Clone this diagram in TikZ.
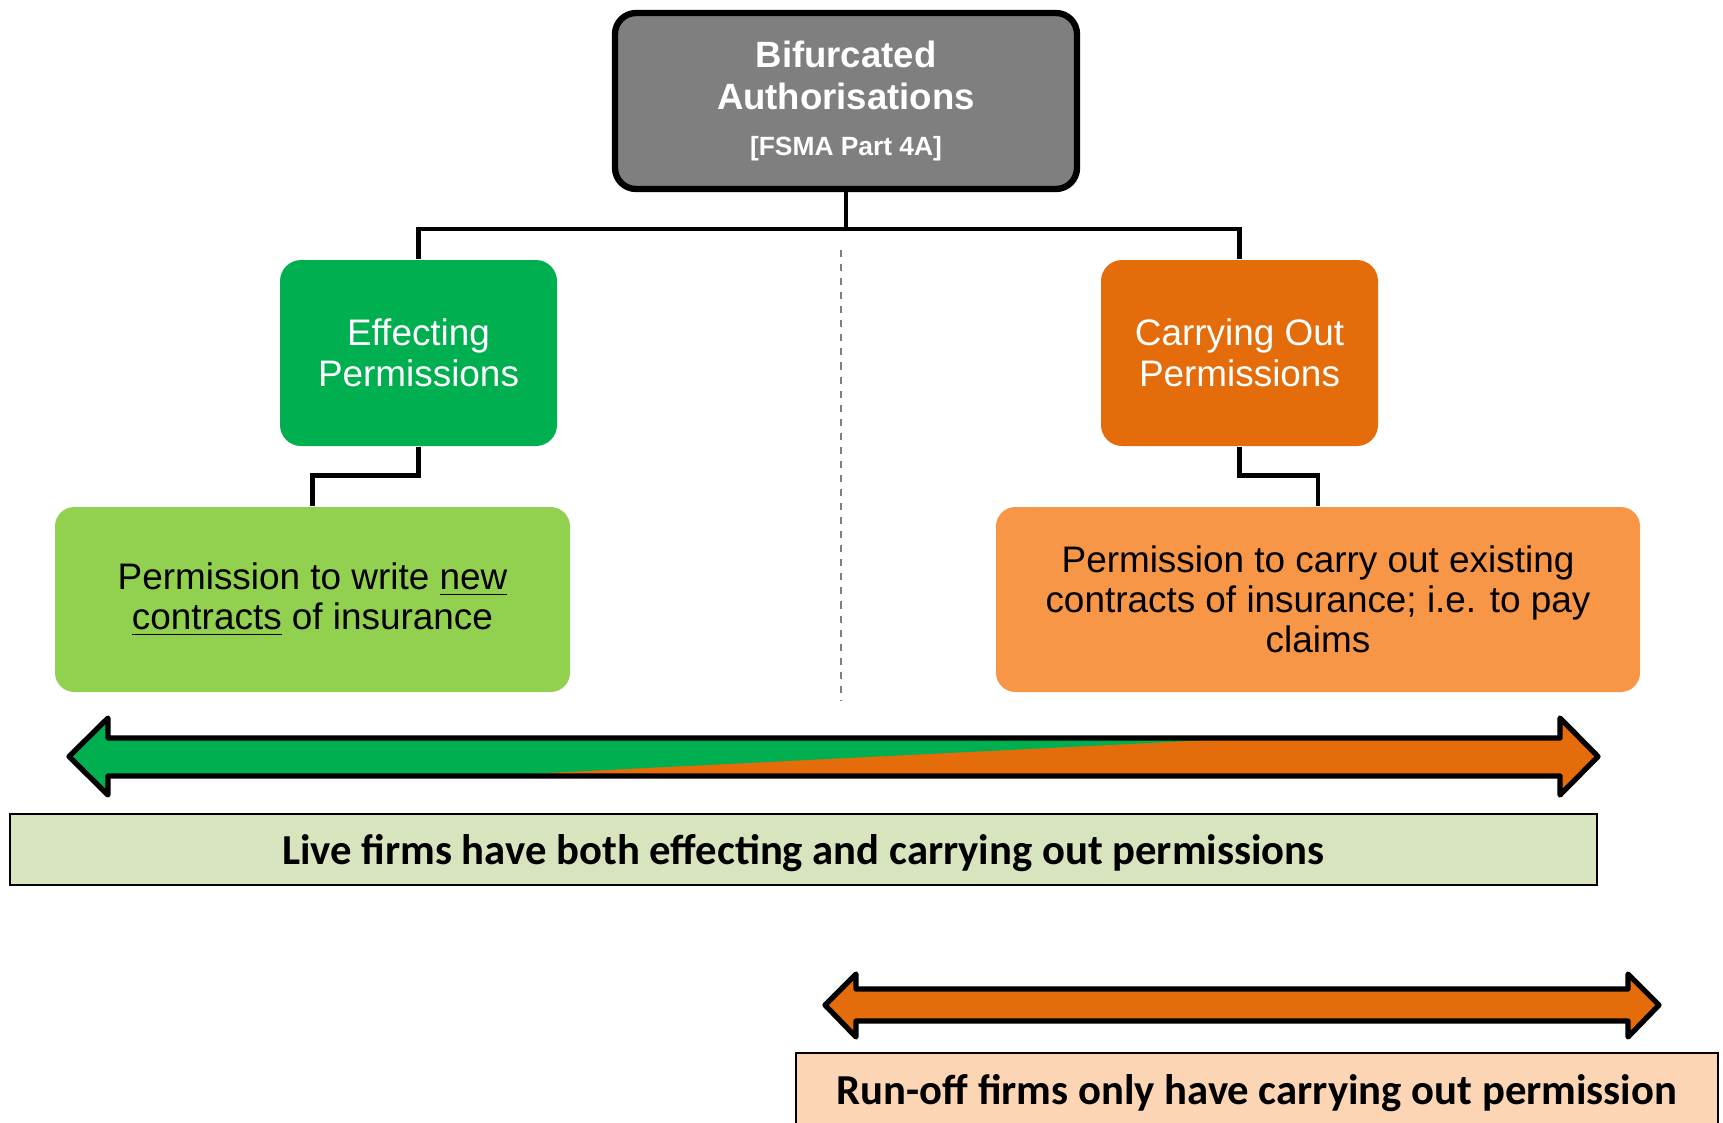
\documentclass[tikz,border=0pt]{standalone}
\usepackage{fontspec}
\setmainfont{Liberation Sans}
\newfontfamily\calibri{Carlito}
\definecolor{boxgray}{HTML}{7F7F7F}
\definecolor{effgreen}{HTML}{00B050}
\definecolor{caoorange}{HTML}{E46C0A}
\definecolor{newgreen}{HTML}{92D050}
\definecolor{oldorange}{HTML}{F79646}
\definecolor{livefill}{HTML}{D7E4BD}
\definecolor{runfill}{HTML}{FCD5B5}

\begin{document}
\begin{tikzpicture}[
  permbox/.style={rounded corners=6pt, inner sep=0pt, align=center, text=white,
    minimum width=2.77cm, minimum height=1.86cm, font=\fontsize{10.5}{11.6}\selectfont},
  descbox/.style={rounded corners=5.5pt, inner sep=0pt, align=center,
    minimum height=1.85cm, font=\fontsize{10.5}{11.4}\selectfont},
  firmbar/.style={draw=black, line width=0.6pt, inner sep=0pt, text height=10.8pt, text depth=2.5pt,
    font=\calibri\bfseries\fontsize{12.15}{14}\selectfont},
  treeline/.style={line width=1.3pt},
  bigarrow/.style={draw=black, line width=1.5pt, line join=round}
]
\useasboundingbox (0,0) rectangle (17.23,-11.22);

\node [draw=black, line width=1.8pt, fill=boxgray, rounded corners=6pt, inner sep=0pt,
  minimum width=4.62cm, minimum height=1.76cm, align=center, text=white]
  (auth) at (8.46,-1.01)
  {\fontsize{10.4}{11}\selectfont\bfseries Bifurcated\\
   \fontsize{10.4}{11}\selectfont\bfseries Authorisations\\[1.2pt]
   \fontsize{7.5}{9}\selectfont\bfseries [FSMA Part 4A]};

\node [permbox, fill=effgreen] (eff) at (4.185,-3.53) {Effecting\\Permissions};
\node [permbox, fill=caoorange] (cao) at (12.395,-3.53) {Carrying Out\\Permissions};

\node [descbox, fill=newgreen, minimum width=5.15cm] (newc) at (3.125,-5.995)
  {Permission to write \underline{new}\\\underline{contracts} of insurance};
\node [descbox, fill=oldorange, minimum width=6.44cm] (oldc) at (13.18,-5.995)
  {Permission to carry out existing\\contracts of insurance; i.e. to pay\\claims};

\draw [treeline] (auth.south) -- ++(0,-0.37) -| (eff.north);
\draw [treeline] (auth.south) -- ++(0,-0.37) -| (cao.north);
\draw [treeline] (eff.south) -- ++(0,-0.29) -| (newc.north);
\draw [treeline] (cao.south) -- ++(0,-0.29) -| (oldc.north);

\draw [boxgray, line width=0.6pt, dash pattern=on 2pt off 2pt] (8.41,-2.50) -- (8.41,-7.00);

% live firms arrow
\fill [caoorange] (0.69,-7.565) -- (1.08,-7.18) -- (1.08,-7.38) -- (15.60,-7.38) -- (15.60,-7.18)
  -- (15.98,-7.565) -- (15.60,-7.95) -- (15.60,-7.76) -- (1.08,-7.76) -- (1.08,-7.95) -- cycle;
\begin{scope}
\clip (0.69,-7.565) -- (1.08,-7.18) -- (1.08,-7.38) -- (15.60,-7.38) -- (15.60,-7.18)
  -- (15.98,-7.565) -- (15.60,-7.95) -- (15.60,-7.76) -- (1.08,-7.76) -- (1.08,-7.95) -- cycle;
\fill [effgreen] (0.5,-7.0) -- (12.50,-7.0) -- (12.50,-7.38) -- (4.85,-7.76) -- (4.85,-8.1) -- (0.5,-8.1) -- cycle;
\end{scope}
\draw [bigarrow] (0.69,-7.565) -- (1.08,-7.18) -- (1.08,-7.38) -- (15.60,-7.38) -- (15.60,-7.18)
  -- (15.98,-7.565) -- (15.60,-7.95) -- (15.60,-7.76) -- (1.08,-7.76) -- (1.08,-7.95) -- cycle;

\node [firmbar, fill=livefill, minimum width=15.87cm, minimum height=0.71cm] (live) at (8.035,-8.495)
  {Live firms have both effecting and carrying out permissions};

% run-off firms arrow
\draw [bigarrow, fill=caoorange] (8.25,-10.05) -- (8.56,-9.74) -- (8.56,-9.89) -- (16.28,-9.89) -- (16.28,-9.74)
  -- (16.59,-10.05) -- (16.28,-10.37) -- (16.28,-10.21) -- (8.56,-10.21) -- (8.56,-10.37) -- cycle;

\node [firmbar, fill=runfill, minimum width=9.22cm, minimum height=0.74cm] (runoff) at (12.57,-10.90)
  {Run-off firms only have carrying out permission};
\end{tikzpicture}
\end{document}
